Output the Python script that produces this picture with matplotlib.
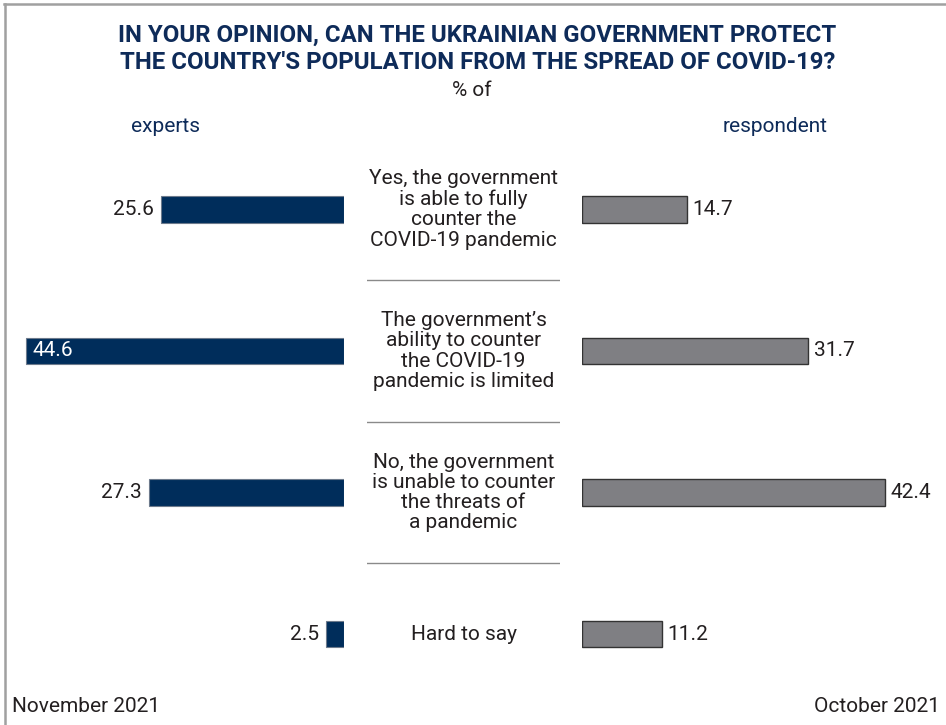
import matplotlib
matplotlib.use("Agg")
import matplotlib.pyplot as plt
from matplotlib.lines import Line2D

categories = [
    "Yes, the government\nis able to fully\ncounter the\nCOVID-19 pandemic",
    "The government\u2019s\nability to counter\nthe COVID-19\npandemic is limited",
    "No, the government\nis unable to counter\nthe threats of\na pandemic",
    "Hard to say",
]
experts = [25.6, 44.6, 27.3, 2.5]
respondents = [14.7, 31.7, 42.4, 11.2]
title = "IN YOUR OPINION, CAN THE UKRAINIAN GOVERNMENT PROTECT\nTHE COUNTRY'S POPULATION FROM THE SPREAD OF COVID-19?"

FONT = ['Roboto', 'DejaVu Sans']
NAVY = '#002d5b'
GREY = '#7f7f83'
TXT = '#231f20'
FS = 15

W, H = 946, 725
fig = plt.figure(figsize=(W / 100, H / 100), dpi=100)

def fx(px):
    return px / W

def fy(py):
    return 1 - py / H

top_px, bot_px = 138.75, 704.75
ay = fy(bot_px)
ah = (bot_px - top_px) / H

# left (experts) axes
lx0, lx1 = 20, 344
axL = fig.add_axes([fx(lx0), ay, fx(lx1 - lx0), ah])
axL.set_xlim((lx1 - lx0) / 7.14, 0)
# right (respondents) axes
rx0, rx1 = 582, 940
axR = fig.add_axes([fx(rx0), ay, fx(rx1 - rx0), ah])
axR.set_xlim(0, (rx1 - rx0) / 7.14)
# middle axes
mx0, mx1 = 367, 560
axM = fig.add_axes([fx(mx0), ay, fx(mx1 - mx0), ah])
axM.set_xlim(0, 1)

ypos = list(range(len(categories)))
for ax in (axL, axR, axM):
    ax.set_ylim(len(categories) - 0.5, -0.5)
    ax.axis('off')

bh = 0.19
axL.barh(ypos, experts, height=bh, color=NAVY, edgecolor='#6d7a8c', linewidth=0.8)
axR.barh(ypos, respondents, height=bh, color=GREY, edgecolor='#333333', linewidth=1.0)

for y, v in zip(ypos, experts):
    if v > 40:
        axL.text(v - 1.0, y, f"{v:.1f}", ha='left', va='center', color='white',
                 fontsize=FS, family=FONT)
    else:
        axL.text(v + 1.0, y, f"{v:.1f}", ha='right', va='center', color=TXT,
                 fontsize=FS, family=FONT)
for y, v in zip(ypos, respondents):
    axR.text(v + 0.8, y, f"{v:.1f}", ha='left', va='center', color=TXT,
             fontsize=FS, family=FONT)

for y, c in zip(ypos, categories):
    axM.text(0.5, y, c, ha='center', va='center', color=TXT, fontsize=FS,
             family=FONT, linespacing=1.08)
for y in ypos[:-1]:
    axM.axhline(y + 0.5, color='#8a8a8a', linewidth=1.0)

fig.text(fx(477.5), fy(49), title, ha='center', va='center', color='#0e2b59',
         fontsize=17.3, fontweight='bold', family=FONT, linespacing=1.2)
fig.text(fx(472), fy(90), "% of", ha='center', va='center', color=TXT,
         fontsize=FS, family=FONT)
fig.text(fx(166), fy(127), "experts", ha='center', va='center', color='#0e2b59',
         fontsize=FS, family=FONT)
fig.text(fx(775), fy(127), "respondent", ha='center', va='center', color='#0e2b59',
         fontsize=FS, family=FONT)
fig.text(fx(12), fy(706), "November 2021", ha='left', va='center', color=TXT,
         fontsize=FS, family=FONT)
fig.text(fx(940), fy(706), "October 2021", ha='right', va='center', color=TXT,
         fontsize=FS, family=FONT)

fig.add_artist(Line2D([fx(4), 1], [fy(4), fy(4)], color='#a0a0a0', linewidth=1.8))
fig.add_artist(Line2D([fx(5), fx(5)], [fy(4), 0], color='#a0a0a0', linewidth=1.8))

fig.savefig('out.png', dpi=100)
